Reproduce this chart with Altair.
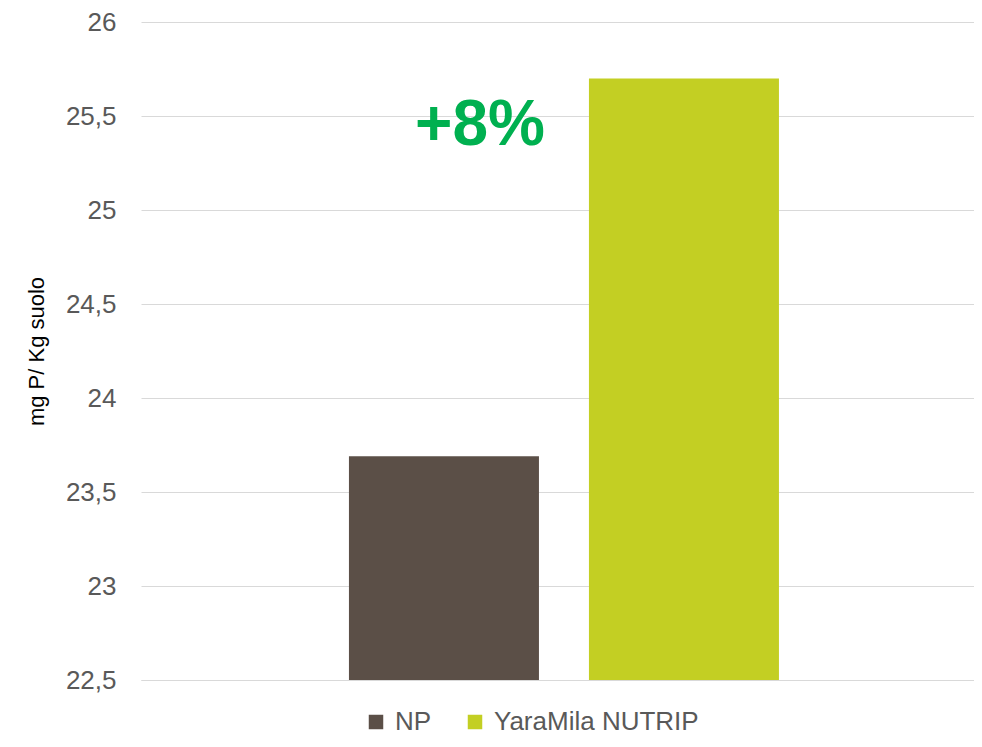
import altair as alt
import pandas as pd

series = ["NP", "YaraMila NUTRIP"]
values = [23.69, 25.70]
colors = ["#5B4F47", "#C3CF23"]
y_ticks = [22.5, 23.0, 23.5, 24.0, 24.5, 25.0, 25.5, 26.0]
annotation_text = ["+8%"]
annotation_anchor = ["NP"]
annotation_y = [25.5]
baseline = 22.5

df = pd.DataFrame({"serie": series, "valore": values, "base": [baseline] * len(series)})
ann = pd.DataFrame({"serie": annotation_anchor, "valore": annotation_y, "testo": annotation_text})

FONT = "Liberation Sans"

x_enc = alt.X(
    "serie:N",
    sort=series,
    scale=alt.Scale(domain=series, paddingInner=0.2083, paddingOuter=0.8396, align=0.516),
    axis=alt.Axis(labels=False, ticks=False, title=None, domain=True, domainColor="#D9D9D9", grid=False),
)

bars = alt.Chart(df).mark_bar().encode(
    x=x_enc,
    y=alt.Y(
        "valore:Q",
        scale=alt.Scale(domain=[22.5, 26], zero=False, nice=False),
        axis=alt.Axis(
            values=y_ticks,
            labelExpr="replace(format(datum.value, ''), '.', ',')",
            labelFont=FONT,
            labelFontSize=26,
            labelColor="#595959",
            labelPadding=25,
            ticks=False,
            domain=False,
            grid=True,
            gridColor="#D9D9D9",
            gridWidth=1,
            title="mg P/ Kg suolo",
            titleFont=FONT,
            titleFontSize=22,
            titleFontWeight="normal",
            titleColor="#000000",
            titleAngle=270,
            titleX=-105,
            titleY=329,
            titleAlign="center",
            titleBaseline="middle",
        ),
    ),
    y2=alt.Y2("base:Q"),
    color=alt.Color(
        "serie:N",
        sort=series,
        scale=alt.Scale(domain=series, range=colors),
        legend=alt.Legend(
            title=None,
            orient="none",
            direction="horizontal",
            legendX=222,
            legendY=687,
            symbolType="square",
            symbolSize=210,
            symbolStrokeWidth=0,
            symbolOpacity=1,
            labelFont=FONT,
            labelFontSize=26,
            labelColor="#595959",
            labelOffset=6,
            labelLimit=400,
            columnPadding=30,
            padding=0,
        ),
    ),
)

text = alt.Chart(ann).mark_text(
    font=FONT,
    fontSize=64,
    fontWeight="bold",
    color="#00B050",
    align="center",
    baseline="alphabetic",
    dx=36,
    dy=29,
).encode(
    x=alt.X("serie:N", sort=series),
    y=alt.Y("valore:Q"),
    text="testo:N",
)

chart = (
    alt.layer(bars, text)
    .properties(
        width=833,
        height=658,
        background="white",
        autosize=alt.AutoSizeParams(type="none"),
        padding={"left": 133, "top": 14, "right": 0, "bottom": 59},
    )
    .configure_view(strokeWidth=0, stroke="transparent")
)

chart.save("out.html", embed_options={"renderer": "svg", "actions": False})
